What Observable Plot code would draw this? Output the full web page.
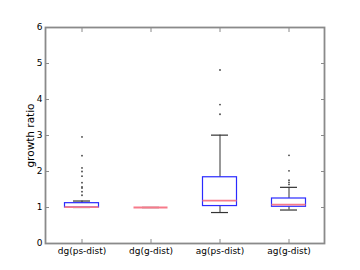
<!DOCTYPE html>
<html>
<head>
<meta charset="utf-8">
<script src="https://cdn.jsdelivr.net/npm/d3@7"></script>
<script src="https://cdn.jsdelivr.net/npm/@observablehq/plot@0.6"></script>
<style>
  html, body { margin: 0; padding: 0; background: #fff; }
  svg { display: block; }
</style>
</head>
<body>
<div id="chart"></div>
<script>
const categories = ["dg(ps-dist)", "dg(g-dist)", "ag(ps-dist)", "ag(g-dist)"];
const q1 = [1.0, 1.0, 1.04, 1.02];
const medians = [1.01, 1.0, 1.19, 1.08];
const q3 = [1.12, 1.0, 1.84, 1.25];
const whiskerLow = [1.0, 1.0, 0.86, 0.93];
const whiskerHigh = [1.18, 1.0, 3.01, 1.56];
const outliersDgPs = [2.96, 2.44, 2.1, 2.0, 1.87, 1.69, 1.57, 1.54, 1.44, 1.34];
const outliersDgG = [];
const outliersAgPs = [4.82, 3.86, 3.59];
const outliersAgG = [2.45, 2.02, 1.76, 1.70, 1.64];
const yTicks = [0, 1, 2, 3, 4, 5, 6];

const boxes = categories.map((c, i) => ({
  cat: c, q1: q1[i], med: medians[i], q3: q3[i], lo: whiskerLow[i], hi: whiskerHigh[i]
}));
const outlierLists = [outliersDgPs, outliersDgG, outliersAgPs, outliersAgG];
const fliers = outlierLists.flatMap((arr, i) => arr.map(v => ({cat: categories[i], v})));

const font = "DejaVu Sans, sans-serif";
const frameColor = "#8a8a8a";

const plot = Plot.plot({
  width: 360,
  height: 270,
  marginLeft: 45,
  marginRight: 36,
  marginTop: 27,
  marginBottom: 27,
  style: {fontFamily: font, fontSize: "9px", color: "#000", background: "#fff"},
  x: {type: "band", domain: categories, padding: 0, label: null},
  y: {domain: [0, 6], ticks: yTicks, label: null},
  marks: [
    Plot.ruleX(boxes, {x: "cat", y1: "lo", y2: "q1", stroke: "#333", strokeWidth: 1}),
    Plot.ruleX(boxes, {x: "cat", y1: "q3", y2: "hi", stroke: "#333", strokeWidth: 1}),
    Plot.tickY(boxes, {x: "cat", y: "lo", stroke: "#333", strokeWidth: 1.2, insetLeft: 26, insetRight: 26}),
    Plot.tickY(boxes, {x: "cat", y: "hi", stroke: "#333", strokeWidth: 1.2, insetLeft: 26, insetRight: 26}),
    Plot.barY(boxes, {x: "cat", y1: "q1", y2: "q3", fill: "none", stroke: "#2a2aff", strokeWidth: 1.2, insetLeft: 17.5, insetRight: 17.5}),
    Plot.tickY(boxes, {x: "cat", y: "med", stroke: "#f77a8a", strokeWidth: 1.8, insetLeft: 17.5, insetRight: 17.5}),
    Plot.dot(fliers, {x: "cat", y: "v", r: 0.9, fill: "#444", stroke: "none"}),
    Plot.frame({stroke: frameColor, strokeWidth: 1.8}),
    Plot.axisY(yTicks, {anchor: "left", tickSize: -4, tickPadding: 7, stroke: frameColor, fontSize: 9, label: null}),
    Plot.axisY(yTicks, {anchor: "right", tickSize: -4, tickFormat: () => "", stroke: frameColor, label: null}),
    Plot.axisX({anchor: "bottom", tickSize: -4, tickPadding: 8, stroke: frameColor, fontSize: 9, label: null}),
    Plot.axisX({anchor: "top", tickSize: -4, tickFormat: () => "", stroke: frameColor, label: null}),
    Plot.text(["growth ratio"], {frameAnchor: "left", dx: -15, rotate: -90, textAnchor: "middle", lineAnchor: "middle", fontSize: 10.5, fill: "#000"})
  ]
});
document.getElementById("chart").appendChild(plot);
</script>
</body>
</html>
